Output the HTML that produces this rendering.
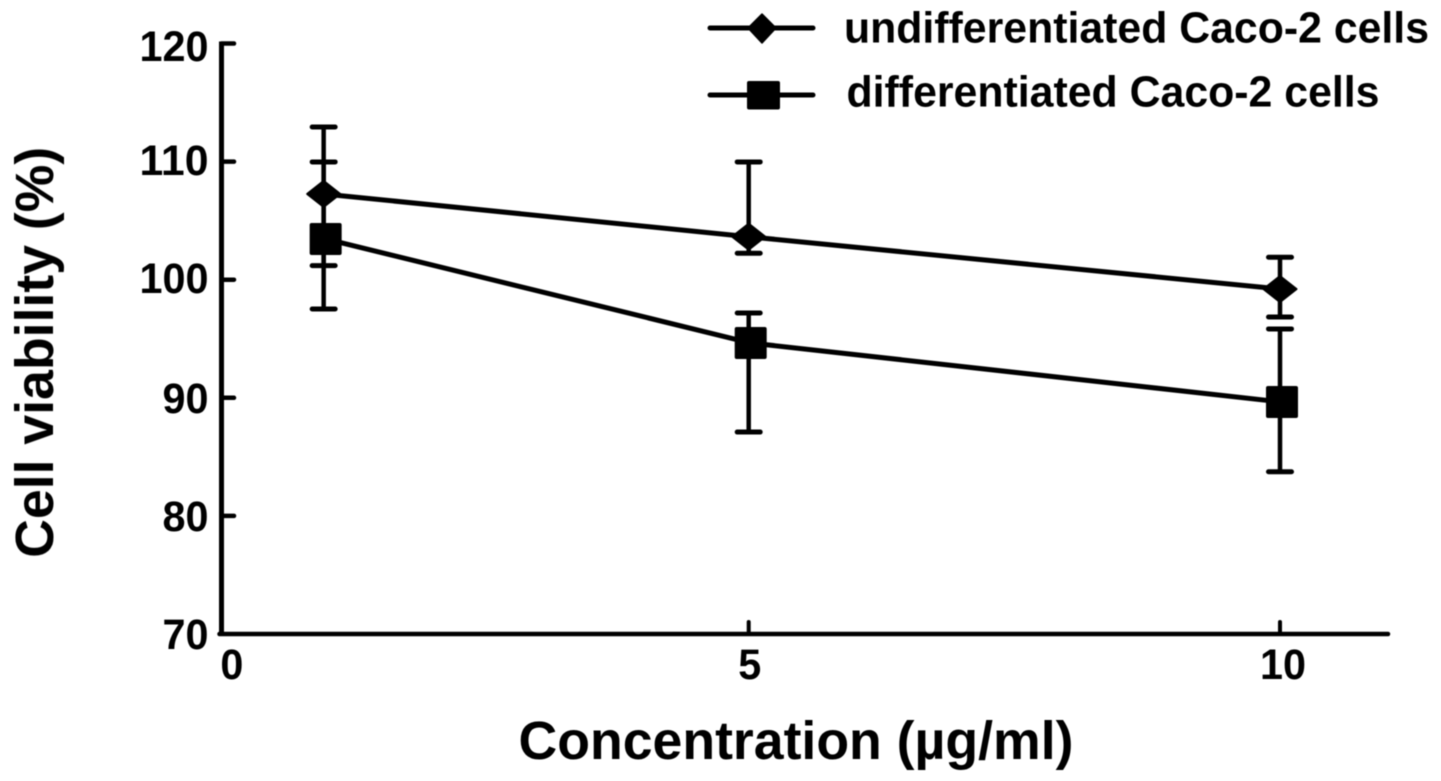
<!DOCTYPE html>
<html lang="en">
<head>
<meta charset="utf-8">
<title>Cell viability chart</title>
<style>
html,body{margin:0;padding:0;background:#fff;}
svg{display:block;}
text{font-family:"Liberation Sans",Arial,sans-serif;font-weight:bold;fill:#000;font-variant-ligatures:none;}
</style>
</head>
<body>
<svg id="chart" width="1441" height="781" viewBox="0 0 1441 781" xmlns="http://www.w3.org/2000/svg">
  <defs>
    <filter id="soft" x="0" y="0" width="1441" height="781" filterUnits="userSpaceOnUse" color-interpolation-filters="sRGB">
      <feGaussianBlur stdDeviation="0.6"/>
    </filter>
  </defs>
  <rect x="0" y="0" width="1441" height="781" fill="#fff"/>
  <g filter="url(#soft)">
    <g id="axes"></g>
    <g id="marks"></g>
    <text transform="translate(53,352.3) rotate(-90)" text-anchor="middle" font-size="53.5" textLength="411" lengthAdjust="spacingAndGlyphs">Cell viability (%)</text>
    <text x="796" y="759" text-anchor="middle" font-size="53.6">Concentration (µg/ml)</text>
    <g>
      <g>
        <line x1="710" y1="28" x2="813" y2="28" stroke="#000" stroke-width="5" stroke-linecap="round"/>
        <polygon points="762,14 776,28 762,43 748,28" fill="#000" stroke="#000" stroke-width="1.5" stroke-linejoin="round"/>
        <text x="844" y="42.5" font-size="44" textLength="585" lengthAdjust="spacingAndGlyphs">undifferentiated Caco-2 cells</text>
      </g>
      <g>
        <line x1="710" y1="95" x2="813" y2="95" stroke="#000" stroke-width="5" stroke-linecap="round"/>
        <rect x="747" y="81" width="33" height="28.5" rx="2" fill="#000"/>
        <text x="846.5" y="106.5" font-size="44" textLength="533" lengthAdjust="spacingAndGlyphs">differentiated Caco-2 cells</text>
      </g>
    </g>
  </g>
</svg>
<script>
const concentrations = [1, 5, 10];
const undiffMean = [107.26, 103.64, 99.21];
const undiffHigh = [112.93, 109.97, 101.9];
const undiffLow = [101.19, 102.24, 96.84];
const diffMean = [103.45, 94.64, 89.64];
const diffHigh = [109.97, 97.18, 95.83];
const diffLow = [97.52, 87.1, 83.74];
const yTicks = [70, 80, 90, 100, 110, 120];
const xTicks = [0, 5, 10];

const NS = 'http://www.w3.org/2000/svg';
const axesGroup = document.getElementById('axes');
const marksGroup = document.getElementById('marks');

function xScale(v) { return 217.4 + 106.26 * v; }
function yScale(v) { return 43.5 + (120 - v) * 11.81; }

function makeShape(tag, parent, attrs) {
  const el = document.createElementNS(NS, tag);
  Object.keys(attrs).forEach(function (k) { el.setAttribute(k, attrs[k]); });
  parent.appendChild(el);
  return el;
}

function strokeStyle(w, cap) {
  return { stroke: '#000', 'stroke-width': w, 'stroke-linecap': cap, fill: 'none' };
}

function yLabelBaseline(v) {
  if (v === 120) { return yScale(v) + 17.5; }
  if (v === 110 || v === 100) { return yScale(v) + 13.5; }
  return yScale(v) + 15;
}

function xLabelCenter(v) {
  if (v === 0) { return xScale(v) + 14.5; }
  if (v === 10) { return xScale(v) + 3; }
  return xScale(v) + 1;
}

const axisLeft = 221.5;
const axisRight = 1388;

const yAxisLine = makeShape('line', axesGroup, Object.assign({ x1: axisLeft, x2: axisLeft, y1: yScale(120) - 2, y2: yScale(70) + 2 }, strokeStyle(5, 'butt')));



const xAxisLine = makeShape('line', axesGroup, Object.assign({ x1: axisLeft - 2, x2: axisRight, y1: yScale(70), y2: yScale(70) }, strokeStyle(4.5, 'round')));



yTicks.forEach(function (v) {
  if (v !== 70) {
    const tick = makeShape('line', axesGroup, Object.assign({ x1: axisLeft, x2: 234, y1: yScale(v), y2: yScale(v) }, strokeStyle(4.5, 'round')));
    
    
  }
  const text = String(v);
  const label = makeShape('text', axesGroup, { x: 208.5, y: yLabelBaseline(v), 'text-anchor': 'end', 'font-size': 43, textLength: 23 * text.length, lengthAdjust: 'spacingAndGlyphs' });
  label.textContent = text;
  
  
});

xTicks.forEach(function (v) {
  if (v !== 0) {
    const tick = makeShape('line', axesGroup, Object.assign({ x1: xScale(v), x2: xScale(v), y1: yScale(70), y2: 622 }, strokeStyle(4, 'round')));
    
    
  }
  const text = String(v);
  const label = makeShape('text', axesGroup, { x: xLabelCenter(v), y: 679, 'text-anchor': 'middle', 'font-size': 43, textLength: 23 * text.length, lengthAdjust: 'spacingAndGlyphs' });
  label.textContent = text;
  
  
});

function drawErrorBars(seriesName, highs, lows) {
  concentrations.forEach(function (c, i) {
    const cx = xScale(c);
    const stem = makeShape('line', marksGroup, Object.assign({ x1: cx, x2: cx, y1: yScale(highs[i]), y2: yScale(lows[i]) }, strokeStyle(4.5, 'butt')));
    
    
    [highs[i], lows[i]].forEach(function (val) {
      const cap = makeShape('line', marksGroup, Object.assign({ x1: cx - 11.5, x2: cx + 11.5, y1: yScale(val), y2: yScale(val) }, strokeStyle(5, 'round')));
      
      
    });
  });
}

function drawLine(seriesName, means, dx) {
  const pts = concentrations.map(function (c, i) { return (xScale(c) + dx) + ',' + yScale(means[i]); }).join(' ');
  const line = makeShape('polyline', marksGroup, Object.assign({ points: pts }, strokeStyle(5, 'butt')));
  
  
}

drawErrorBars('undifferentiated', undiffHigh, undiffLow);
drawErrorBars('differentiated', diffHigh, diffLow);
drawLine('undifferentiated', undiffMean, 0);
drawLine('differentiated', diffMean, 2);

concentrations.forEach(function (c, i) {
  const cx = xScale(c);
  const cy = yScale(undiffMean[i]);
  const diamond = makeShape('polygon', marksGroup, {
    points: cx + ',' + (cy - 13) + ' ' + (cx + 16.5) + ',' + cy + ' ' + cx + ',' + (cy + 13) + ' ' + (cx - 16.5) + ',' + cy,
    fill: '#000',
    stroke: '#000',
    'stroke-width': 2,
    'stroke-linejoin': 'round'
  });
  
  

  const sx = cx + 2;
  const sy = yScale(diffMean[i]);
  const square = makeShape('rect', marksGroup, { x: sx - 16, y: sy - 16, width: 32, height: 32, rx: 2, fill: '#000' });
  
  
});
</script>
</body>
</html>
